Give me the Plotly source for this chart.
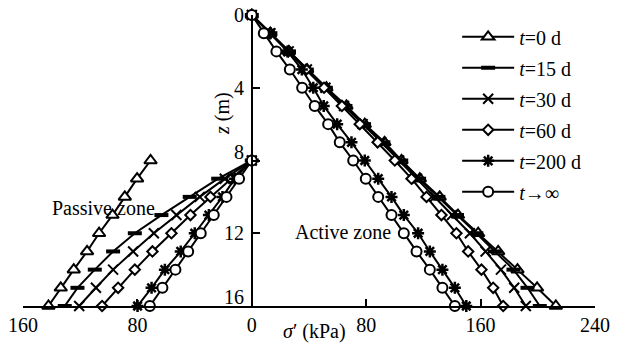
import plotly.graph_objects as go

# ---------------- data ----------------
z_active = list(range(0, 17))
z_passive = list(range(8, 17))

series_names = ["<i>t</i>=0 d", "<i>t</i>=15 d", "<i>t</i>=30 d", "<i>t</i>=60 d", "<i>t</i>=200 d", "<i>t</i>→∞"]

# active side (kPa)
t0_active = [0, 13, 26, 38.7, 52.2, 66.2, 79, 92.8, 104.7, 117.5, 131.4, 144.2, 158.3, 172.3, 185.8, 199.5, 212.6]
t15_active = [0, 13, 26, 38.5, 51.8, 65.5, 78.5, 92, 104.5, 117, 130.5, 143.5, 157, 170, 183, 192.8, 201.4]
t30_active = [0, 13, 25.8, 38.5, 51.5, 64.5, 77.5, 90.5, 103, 115.5, 128, 140, 152.5, 163.5, 174.2, 183.5, 191.6]
t60_active = [0, 12.8, 25.5, 38, 50.5, 63, 75.5, 88, 100, 111.7, 122.2, 132.6, 143.1, 151.3, 160.6, 168.8, 175.8]
t200_active = [0, 13, 25, 35, 43, 50.3, 59.7, 69.7, 79, 88.4, 97.7, 106.3, 116.3, 124.5, 133.3, 142, 150]
tinf_active = [0, 8.4, 17.2, 26.6, 35.2, 44, 53.4, 61.5, 70.9, 79.7, 88.4, 97.7, 106.3, 115.2, 124.5, 133.3, 142]

# passive side (kPa, plotted to the left)
t0_passive = [-70.8, -80.2, -88.8, -97.4, -106.8, -115.2, -124.5, -133.6, -142.2]
t15_passive = [0, -23.5, -43.4, -63.2, -81.8, -97, -109.8, -121.9, -130.8]
t30_passive = [0, -18.9, -36.4, -52.7, -68.5, -83, -97, -109, -120.7]
t60_passive = [0, -14.2, -28.9, -42.9, -56.2, -69.5, -81.8, -93.5, -104.7]
t200_passive = [0, -11.9, -20.5, -30, -39.9, -49.7, -60.8, -70.1, -79.9]
tinf_passive = [0, -8.9, -17.7, -26.6, -35.7, -44.5, -53.4, -62.5, -71.3]

x_tick_vals = [-160, -80, 0, 80, 160, 240]
x_tick_text = ["160", "80", "0", "80", "160", "240"]
y_tick_vals = [0, 4, 8, 12, 16]
y_tick_text = ["0", "4", "8", "12", "16"]
y_label_lift = [0, 0, 9, 0, 9]   # px, labels nudged up as in the original

# ---------------- styling ----------------
FONT = "Liberation Serif, Times New Roman, serif"
BLACK = "black"
markers = [
    dict(symbol="triangle-up", size=11, color="white", line=dict(color=BLACK, width=2)),
    dict(symbol="line-ew", size=10, color=BLACK, line=dict(color=BLACK, width=4)),
    dict(symbol="x-thin", size=10, color=BLACK, line=dict(color=BLACK, width=2)),
    dict(symbol="diamond", size=8, color="white", line=dict(color=BLACK, width=2)),
    dict(symbol="asterisk", size=10, color=BLACK, line=dict(color=BLACK, width=2.5)),
    dict(symbol="circle", size=10, color="white", line=dict(color=BLACK, width=2)),
]
actives = [t0_active, t15_active, t30_active, t60_active, t200_active, tinf_active]
passives = [t0_passive, t15_passive, t30_passive, t60_passive, t200_passive, tinf_passive]

fig = go.Figure()
for name, mk, xp in zip(series_names, markers, passives):
    fig.add_trace(go.Scatter(x=xp, y=z_passive, mode="lines+markers", name=name,
                             line=dict(color=BLACK, width=2), marker=mk,
                             showlegend=False, cliponaxis=False))
for i, (name, mk, xa) in enumerate(zip(series_names, markers, actives)):
    fig.add_trace(go.Scatter(x=xa, y=z_active, mode="lines+markers", name=name,
                             line=dict(color=BLACK, width=2), marker=mk,
                             legendgroup=str(i), cliponaxis=False))

W, H = 617, 355
ml, mr, mt, mb = 23, 22, 15, 49
x0, x1 = -160, 240
yaxis_pos = (0 - x0) / (x1 - x0)

fig.update_layout(
    width=W, height=H,
    margin=dict(l=ml, r=mr, t=mt, b=mb, autoexpand=False),
    paper_bgcolor="white", plot_bgcolor="white",
    font=dict(family=FONT, size=20, color=BLACK),
    showlegend=True,
    legend=dict(x=0.759, y=0.992, xanchor="left", yanchor="top",
                bgcolor="rgba(0,0,0,0)", font=dict(size=20, family=FONT),
                tracegroupgap=2, itemwidth=52),
    xaxis=dict(range=[x0, x1], tickvals=x_tick_vals, ticktext=x_tick_text,
               showgrid=False, zeroline=False, showline=True, linecolor=BLACK, linewidth=2,
               ticks="inside", ticklen=7, tickwidth=2, tickcolor=BLACK, automargin=False,
               tickfont=dict(size=20, family=FONT), fixedrange=True),
    yaxis=dict(range=[16, 0], tickvals=y_tick_vals,
               anchor="free", position=yaxis_pos, automargin=False,
               showgrid=False, zeroline=False, showline=True, linecolor=BLACK, linewidth=2,
               ticks="inside", ticklen=7, tickwidth=2, tickcolor=BLACK,
               showticklabels=False, fixedrange=True),
)

for v, t, lift in zip(y_tick_vals, y_tick_text, y_label_lift):
    fig.add_annotation(x=0, y=v, xref="x", yref="y", text=t, showarrow=False,
                       xanchor="right", xshift=-6, yshift=lift,
                       font=dict(size=20, family=FONT))

fig.add_annotation(x=0, y=5.4, xref="x", yref="y", text="<i>z</i> (m)", textangle=-90,
                   showarrow=False, xshift=-30, font=dict(size=20, family=FONT))
fig.add_annotation(x=44, y=0, xref="x", yref="paper", text="<i>σ</i>′ (kPa)",
                   showarrow=False, yshift=-39, font=dict(size=20, family=FONT))
fig.add_annotation(x=-104, y=10.6, xref="x", yref="y", text="Passive zone",
                   showarrow=False, font=dict(size=20, family=FONT))
fig.add_annotation(x=64, y=11.93, xref="x", yref="y", text="Active zone",
                   showarrow=False, font=dict(size=20, family=FONT))

fig.write_html("out.html", config={"displayModeBar": False},
               post_script="document.body.style.margin='0';document.body.style.padding='0';")
